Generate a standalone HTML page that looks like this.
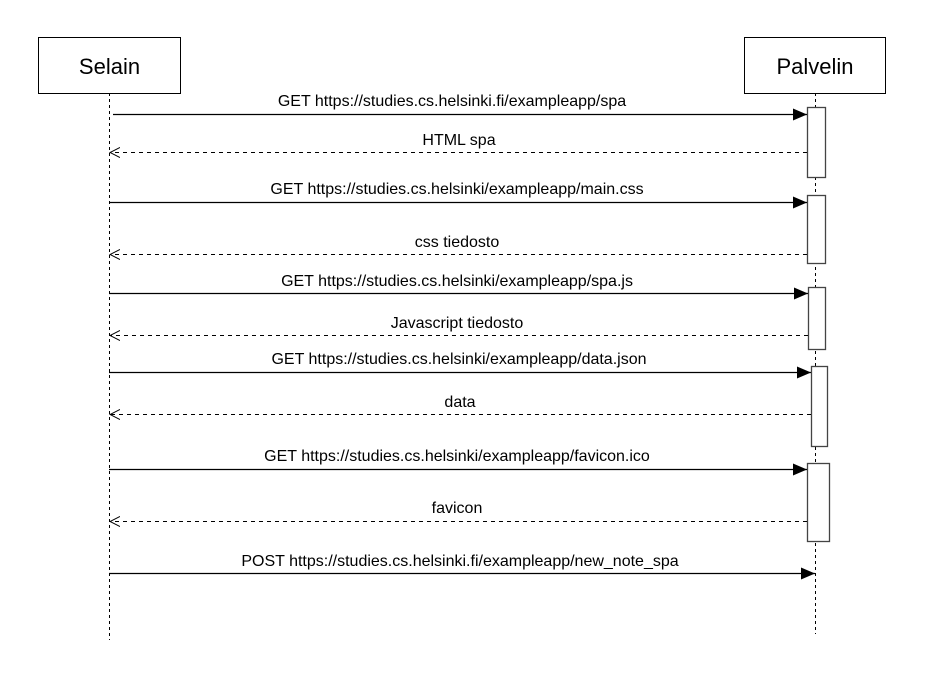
<!DOCTYPE html>
<html><head><meta charset="utf-8"><style>html,body{margin:0;padding:0;background:#fff}svg{display:block}</style></head>
<body>
<svg width="930" height="676" xmlns="http://www.w3.org/2000/svg" font-family="'Liberation Sans', Arial, sans-serif">
<defs>
<marker id="f" markerWidth="14" markerHeight="12" refX="14" refY="6" orient="auto" markerUnits="userSpaceOnUse"><path d="M0,0 L14,6 L0,12 z" fill="#000"/></marker>
<marker id="o" markerWidth="11" markerHeight="12" refX="10" refY="6" orient="auto" markerUnits="userSpaceOnUse"><path d="M0,1 L10,6 L0,11" fill="none" stroke="#000" stroke-width="1"/></marker>
</defs>
<g stroke="#000" stroke-dasharray="3,3" stroke-width="1">
<line x1="109.5" y1="93" x2="109.5" y2="640"/>
<line x1="815.5" y1="93" x2="815.5" y2="634"/>
</g>
<rect x="38.5" y="37.5" width="142" height="56" fill="#fff" stroke="#000"/>
<rect x="744.5" y="37.5" width="141" height="56" fill="#fff" stroke="#000"/>
<text x="109.5" y="74" font-size="22" text-anchor="middle">Selain</text>
<text x="815" y="74" font-size="22" text-anchor="middle">Palvelin</text>
<g fill="#fff" stroke="#444" stroke-width="1.3">
<rect x="807.5" y="107.5" width="18" height="70"/>
<rect x="807.5" y="195.5" width="18" height="68"/>
<rect x="808.5" y="287.5" width="17" height="62"/>
<rect x="811.5" y="366.5" width="16" height="80"/>
<rect x="807.5" y="463.5" width="22" height="78"/>
</g>
<g stroke="#000" stroke-width="1.3">
<line x1="113" y1="114.5" x2="807" y2="114.5" marker-end="url(#f)"/>
<line x1="109" y1="202.5" x2="807" y2="202.5" marker-end="url(#f)"/>
<line x1="109" y1="293.5" x2="808" y2="293.5" marker-end="url(#f)"/>
<line x1="109" y1="372.5" x2="811" y2="372.5" marker-end="url(#f)"/>
<line x1="109" y1="469.5" x2="807" y2="469.5" marker-end="url(#f)"/>
<line x1="109" y1="573.5" x2="815" y2="573.5" marker-end="url(#f)"/>
</g>
<g stroke="#000" stroke-width="1" stroke-dasharray="4,4" fill="none">
<line x1="807" y1="152.5" x2="110" y2="152.5" marker-end="url(#o)"/>
<line x1="807" y1="254.5" x2="110" y2="254.5" marker-end="url(#o)"/>
<line x1="808" y1="335.5" x2="110" y2="335.5" marker-end="url(#o)"/>
<line x1="811" y1="414.5" x2="110" y2="414.5" marker-end="url(#o)"/>
<line x1="807" y1="521.5" x2="110" y2="521.5" marker-end="url(#o)"/>
</g>
<g font-size="16" text-anchor="middle" fill="#000">
<text x="452" y="106">GET https://studies.cs.helsinki.fi/exampleapp/spa</text>
<text x="459" y="145">HTML spa</text>
<text x="457" y="194">GET https://studies.cs.helsinki/exampleapp/main.css</text>
<text x="457" y="247">css tiedosto</text>
<text x="457" y="286">GET https://studies.cs.helsinki/exampleapp/spa.js</text>
<text x="457" y="328">Javascript tiedosto</text>
<text x="459" y="364">GET https://studies.cs.helsinki/exampleapp/data.json</text>
<text x="460" y="407">data</text>
<text x="457" y="461">GET https://studies.cs.helsinki/exampleapp/favicon.ico</text>
<text x="457" y="513">favicon</text>
<text x="460" y="566">POST https://studies.cs.helsinki.fi/exampleapp/new_note_spa</text>
</g>
</svg>
</body></html>
